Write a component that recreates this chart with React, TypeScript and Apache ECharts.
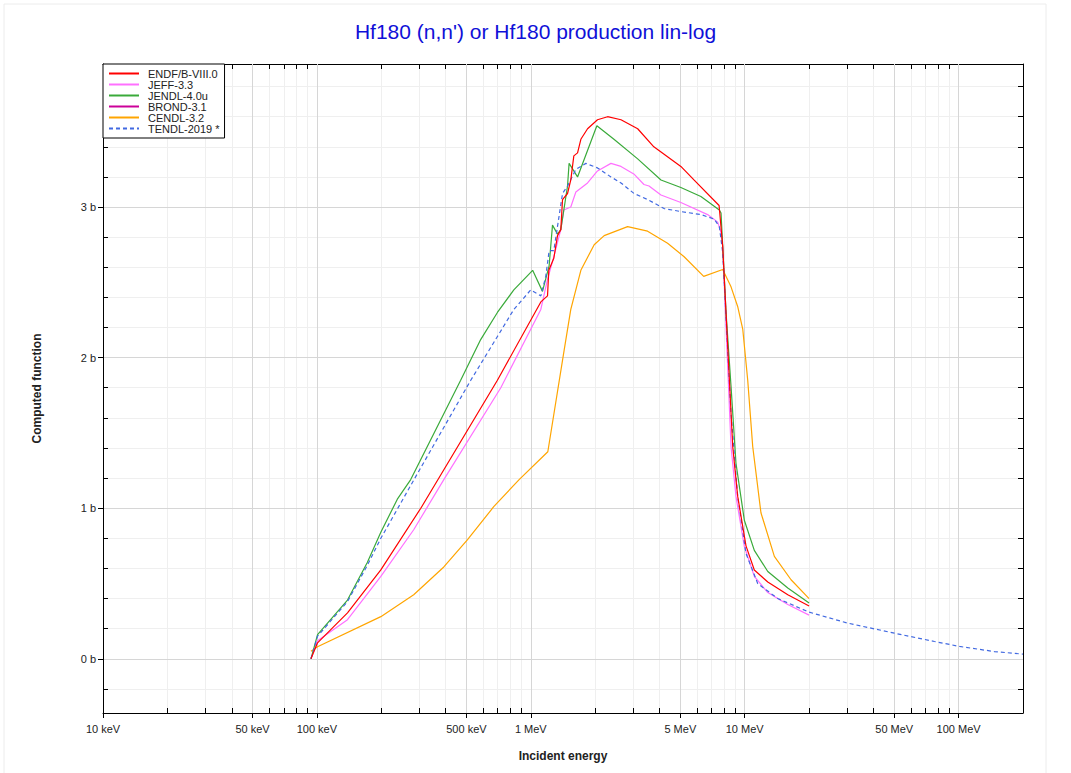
import React, { useEffect, useRef } from "react";
import * as echarts from "echarts";

// ---- Data (energies in MeV, cross sections in barns) ----
const endfE = [0.0938, 0.1007, 0.139, 0.199, 0.306, 0.698, 1.114, 1.197, 1.214, 1.281, 1.333, 1.381, 1.407, 1.485, 1.538, 1.589, 1.654, 1.714, 1.842, 2.05, 2.285, 2.64, 3.16, 3.76, 5.03, 5.79, 7.59, 7.89, 8.33, 8.79, 9.27, 10.14, 11.09, 12.82, 15.9, 20];
const endfXS = [0, 0.106, 0.305, 0.59, 1.0, 1.85, 2.37, 2.41, 2.58, 2.66, 2.81, 2.85, 3.05, 3.09, 3.18, 3.34, 3.36, 3.45, 3.52, 3.58, 3.6, 3.58, 3.52, 3.4, 3.27, 3.18, 3.01, 2.74, 2.07, 1.41, 1.08, 0.75, 0.59, 0.51, 0.425, 0.35];

const jeffE = [0.0938, 0.1007, 0.139, 0.199, 0.2835, 0.392, 0.724, 1.114, 1.197, 1.281, 1.381, 1.427, 1.538, 1.624, 1.842, 2.05, 2.37, 2.64, 3.03, 3.38, 3.57, 4.06, 5.03, 6.71, 7.48, 7.75, 7.89, 8.63, 9.1, 9.96, 11.09, 12.82, 15.9, 20];
const jeffXS = [0, 0.12, 0.26, 0.547, 0.857, 1.19, 1.8, 2.32, 2.52, 2.67, 2.85, 2.98, 3.0, 3.1, 3.16, 3.24, 3.29, 3.27, 3.22, 3.15, 3.14, 3.08, 3.03, 2.95, 2.9, 2.83, 2.74, 1.41, 1.08, 0.746, 0.547, 0.44, 0.36, 0.29];

const jendlE = [0.0938, 0.1007, 0.139, 0.172, 0.199, 0.2377, 0.2745, 0.47, 0.583, 0.698, 0.833, 1.02, 1.134, 1.218, 1.263, 1.333, 1.381, 1.485, 1.51, 1.654, 2.036, 2.447, 3.16, 4.06, 5.03, 6.24, 7.61, 7.75, 8.18, 8.63, 9.1, 9.96, 11.09, 12.82, 15.9, 20];
const jendlXS = [0, 0.16, 0.39, 0.64, 0.84, 1.06, 1.19, 1.85, 2.12, 2.3, 2.45, 2.58, 2.44, 2.61, 2.88, 2.82, 2.85, 3.14, 3.29, 3.2, 3.54, 3.45, 3.32, 3.18, 3.13, 3.07, 2.98, 2.96, 2.3, 1.81, 1.3, 0.92, 0.72, 0.58, 0.47, 0.37];

const brondE: number[] = [];
const brondXS: number[] = [];

const cendlE = [0.0938, 0.1007, 0.199, 0.2835, 0.392, 0.505, 0.671, 0.882, 1.201, 1.432, 1.538, 1.714, 1.978, 2.203, 2.835, 3.516, 4.36, 5.21, 6.43, 7.89, 8.63, 9.27, 9.79, 10.33, 10.9, 11.91, 13.76, 16.47, 20];
const cendlXS = [0.05, 0.08, 0.28, 0.425, 0.61, 0.79, 1.01, 1.19, 1.375, 2.05, 2.32, 2.58, 2.75, 2.81, 2.87, 2.84, 2.76, 2.67, 2.54, 2.585, 2.47, 2.34, 2.19, 1.85, 1.41, 0.97, 0.68, 0.525, 0.4];

const tendlE = [0.0938, 0.1007, 0.139, 0.172, 0.199, 0.2844, 0.524, 0.698, 0.833, 1.0, 1.114, 1.175, 1.218, 1.281, 1.407, 1.485, 1.624, 1.809, 2.05, 2.37, 2.64, 3.04, 3.516, 4.2, 5.03, 6.24, 7.21, 7.61, 7.89, 8.63, 9.27, 10.14, 11.5, 14.27, 20, 30.3, 50.1, 77.1, 101, 147, 200];
const tendlXS = [0, 0.15, 0.38, 0.62, 0.8, 1.19, 1.85, 2.14, 2.32, 2.45, 2.41, 2.54, 2.71, 2.71, 3.09, 3.14, 3.25, 3.29, 3.26, 3.2, 3.16, 3.09, 3.05, 2.99, 2.97, 2.95, 2.92, 2.87, 2.7, 1.63, 1.08, 0.7, 0.5, 0.4, 0.31, 0.237, 0.17, 0.115, 0.082, 0.048, 0.031];

// ---- Axis ticks ----
const xMajorMeV = [0.01, 0.05, 0.1, 0.5, 1, 5, 10, 50, 100];
const xMajorLabels = ["10 keV", "50 keV", "100 keV", "500 keV", "1 MeV", "5 MeV", "10 MeV", "50 MeV", "100 MeV"];
const xMinorMeV = [0.02, 0.03, 0.04, 0.06, 0.07, 0.08, 0.09, 0.2, 0.3, 0.4, 0.6, 0.7, 0.8, 0.9, 2, 3, 4, 6, 7, 8, 9, 20, 30, 40, 60, 70, 80, 90, 200];
const yMajor = [0, 1, 2, 3];
const yMinor = [-0.2, 0.2, 0.4, 0.6, 0.8, 1.2, 1.4, 1.6, 1.8, 2.2, 2.4, 2.6, 2.8, 3.2, 3.4, 3.6, 3.8];

const X_MIN_MEV = 0.01;
const X_MAX_MEV = 200;
const Y_MIN = -0.36;
const Y_MAX = 3.95;

const FONT = "'Liberation Sans', Arial, Helvetica, sans-serif";

export default function App() {
  const ref = useRef<HTMLDivElement>(null);
  useEffect(() => {
    if (!ref.current) return;
    const chart = echarts.init(ref.current, undefined, { renderer: "svg" });
    const lg = (v: number) => Math.log10(v);
    const pairs = (e: number[], s: number[]) => e.map((v, i) => [lg(v), s[i]]);
    const xMin = lg(X_MIN_MEV);
    const xMax = lg(X_MAX_MEV);
    const xMajorLog = xMajorMeV.map(lg);
    const xMinorLog = xMinorMeV.map(lg);
    const xAllLog = xMajorLog.concat(xMinorLog);
    const yAll = yMajor.concat(yMinor);
    const labelFor = (v: number) => {
      let best = 0;
      let bd = Infinity;
      xMajorLog.forEach((t, i) => {
        const d = Math.abs(t - v);
        if (d < bd) { bd = d; best = i; }
      });
      return xMajorLabels[best];
    };
    const hiddenX = (extra: any) => ({
      type: "value", min: xMin, max: xMax, gridIndex: 0,
      axisLine: { show: false, onZero: false }, axisLabel: { show: false },
      splitLine: { show: false }, axisTick: { show: false }, ...extra,
    });
    const hiddenY = (extra: any) => ({
      type: "value", min: Y_MIN, max: Y_MAX, gridIndex: 0,
      axisLine: { show: false, onZero: false }, axisLabel: { show: false },
      splitLine: { show: false }, axisTick: { show: false }, ...extra,
    });
    const mk = (name: string, e: number[], s: number[], color: string, dashed = false, z = 2) => ({
      type: "line", name, data: pairs(e, s), xAxisIndex: 1, yAxisIndex: 1,
      symbol: "none", showSymbol: false, z,
      lineStyle: { color, width: 1.2, type: dashed ? [4, 3] : "solid" },
      itemStyle: { color },
    });
    chart.setOption({
      animation: false,
      backgroundColor: "#fff",
      textStyle: { fontFamily: FONT },
      graphic: [
        { type: "rect", shape: { x: 4, y: 4, width: 1042, height: 800 }, style: { fill: "none", stroke: "#ececec", lineWidth: 1 }, silent: true, z: -10 },
      ],
      title: {
        text: "Hf180 (n,n') or Hf180 production lin-log",
        left: "center", top: 16,
        textStyle: { color: "#1010d8", fontSize: 21, fontWeight: "normal", fontFamily: FONT },
      },
      legend: {
        left: 103, top: 64, orient: "vertical",
        backgroundColor: "#fff", borderColor: "#000", borderWidth: 1, borderRadius: 0,
        padding: [4, 5, 4, 5], itemWidth: 30, itemHeight: 13, itemGap: 0,
        itemStyle: { opacity: 0, borderWidth: 0 },
        textStyle: { fontSize: 11, color: "#222", fontFamily: FONT, padding: [0, 0, 0, 4] },
        data: ["ENDF/B-VIII.0", "JEFF-3.3", "JENDL-4.0u", "BROND-3.1", "CENDL-3.2", "TENDL-2019 *"],
        z: 10,
      },
      grid: { left: 103, right: 48, top: 64, bottom: 60, containLabel: false },
      xAxis: [
        hiddenX({ position: "bottom", axisTick: { show: false, customValues: xMinorLog }, splitLine: { show: true, lineStyle: { color: "#efefef", width: 1 } } }),
        {
          type: "value", min: xMin, max: xMax, position: "bottom", z: 3,
          name: "Incident energy", nameLocation: "middle", nameGap: 37,
          nameTextStyle: { fontSize: 12, fontWeight: "bold", color: "#222", fontFamily: FONT },
          axisLine: { show: true, onZero: false, lineStyle: { color: "#000", width: 1 } },
          axisTick: { show: true, inside: false, length: 5, customValues: xMajorLog, lineStyle: { color: "#000" } },
          axisLabel: { customValues: xMajorLog, formatter: (v: number) => labelFor(v), margin: 10, fontSize: 11, color: "#222", fontFamily: FONT },
          splitLine: { show: true, lineStyle: { color: "#d6d6d6", width: 1 } },
        },
        hiddenX({ position: "bottom", axisTick: { show: true, inside: true, length: 5, customValues: xAllLog, lineStyle: { color: "#000" } } }),
        hiddenX({ position: "top", axisLine: { show: true, onZero: false, lineStyle: { color: "#000" } }, axisTick: { show: true, inside: true, length: 5, customValues: xAllLog, lineStyle: { color: "#000" } } }),
      ],
      yAxis: [
        hiddenY({ position: "left", axisTick: { show: false, customValues: yMinor }, splitLine: { show: true, lineStyle: { color: "#efefef", width: 1 } } }),
        {
          type: "value", min: Y_MIN, max: Y_MAX, position: "left", z: 3,
          name: "Computed function", nameLocation: "middle", nameGap: 60, nameRotate: 90,
          nameTextStyle: { fontSize: 12, fontWeight: "bold", color: "#222", fontFamily: FONT },
          axisLine: { show: true, onZero: false, lineStyle: { color: "#000", width: 1 } },
          axisTick: { show: true, inside: false, length: 5, customValues: yMajor, lineStyle: { color: "#000" } },
          axisLabel: { customValues: yMajor, formatter: (v: number) => `${Math.round(v)} b`, margin: 7, fontSize: 11, color: "#222", fontFamily: FONT },
          splitLine: { show: true, lineStyle: { color: "#d6d6d6", width: 1 } },
        },
        hiddenY({ position: "left", axisTick: { show: true, inside: true, length: 5, customValues: yAll, lineStyle: { color: "#000" } } }),
        hiddenY({ position: "right", axisLine: { show: true, onZero: false, lineStyle: { color: "#000" } }, axisTick: { show: true, inside: true, length: 5, customValues: yAll, lineStyle: { color: "#000" } } }),
      ],
      series: [
        mk("ENDF/B-VIII.0", endfE, endfXS, "#ff0000", false, 7),
        mk("JEFF-3.3", jeffE, jeffXS, "#ff70ff", false, 4),
        mk("JENDL-4.0u", jendlE, jendlXS, "#3aaa3a", false, 5),
        mk("BROND-3.1", brondE, brondXS, "#cc0099", false, 3),
        mk("CENDL-3.2", cendlE, cendlXS, "#ffa500", false, 3),
        mk("TENDL-2019 *", tendlE, tendlXS, "#4169e1", true, 6),
      ],
    });
    return () => chart.dispose();
  }, []);
  return (
    <div
      ref={ref}
      style={{ position: "absolute", left: 0, top: 0, width: 1071, height: 773 }}
    />
  );
}
